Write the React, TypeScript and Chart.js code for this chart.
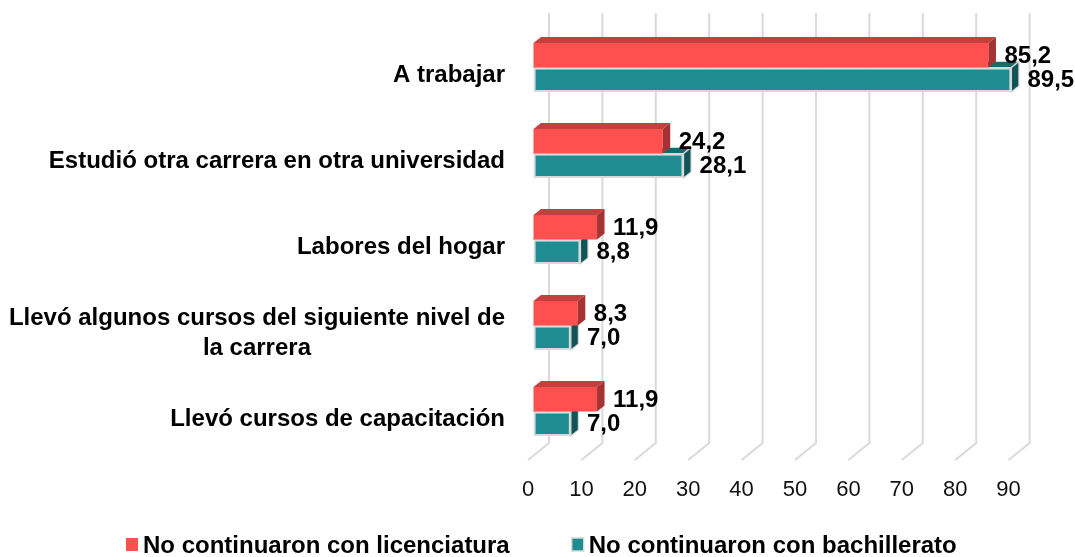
import React, { useEffect, useRef } from 'react';
import { Chart, registerables } from 'chart.js';

Chart.register(...registerables);

// ---- data ----
const categories: (string | string[])[] = [
  'A trabajar',
  'Estudió otra carrera en otra universidad',
  'Labores del hogar',
  ['Llevó algunos cursos del siguiente nivel de', 'la carrera'],
  'Llevó cursos de capacitación',
];
const seriesNames = ['No continuaron con licenciatura', 'No continuaron con bachillerato'];
const licenciatura = [85.2, 24.2, 11.9, 8.3, 11.9];
const bachillerato = [89.5, 28.1, 8.8, 7.0, 7.0];
const xTickValues = [0, 10, 20, 30, 40, 50, 60, 70, 80, 90];

// ---- styles ----
const FONT = '"Liberation Sans", Arial, sans-serif';
const FRONT = ['#FF5050', '#1E8C91'];
const TOPF = ['#C4403F', '#166A6E'];
const SIDE = ['#A63333', '#105458'];
const OUTLINE = [null, '#d9d9d9'];
const GRID = '#d9d9d9';
const DEPTH_X = 21;
const DEPTH_Y = 17;
const SHIFT_X = 5.5;
const SHIFT_Y = -5.5;
const FACE_X = 7.5;
const FACE_Y = -6;

const fmt = (v: number) => v.toFixed(1).replace('.', ',');

const threeD = {
  id: 'threeD',
  beforeDatasetsDraw(chart: any) {
    const { ctx, chartArea, scales } = chart;
    const x = scales.x;
    ctx.save();
    ctx.strokeStyle = GRID;
    ctx.lineWidth = 2;
    for (const v of xTickValues) {
      const fx = x.getPixelForValue(v);
      ctx.beginPath();
      ctx.moveTo(fx + DEPTH_X, chartArea.top - DEPTH_Y);
      ctx.lineTo(fx + DEPTH_X, chartArea.bottom - DEPTH_Y);
      ctx.lineTo(fx, chartArea.bottom);
      ctx.stroke();
    }
    ctx.restore();
  },
  beforeDatasetDraw(chart: any) {
    chart.ctx.save();
    chart.ctx.translate(SHIFT_X, SHIFT_Y);
  },
  afterDatasetDraw(chart: any, args: any) {
    const ctx = chart.ctx;
    const i = args.index;
    args.meta.data.forEach((bar: any) => {
      const p = bar.getProps(['x', 'y', 'base', 'height'], true);
      const l = Math.min(p.base, p.x);
      const r = Math.max(p.base, p.x);
      const t = p.y - p.height / 2;
      const b = p.y + p.height / 2;
      // top face
      ctx.beginPath();
      ctx.moveTo(l, t);
      ctx.lineTo(l + FACE_X, t + FACE_Y);
      ctx.lineTo(r + FACE_X, t + FACE_Y);
      ctx.lineTo(r, t);
      ctx.closePath();
      ctx.fillStyle = TOPF[i];
      ctx.fill();
      if (OUTLINE[i]) {
        ctx.strokeStyle = OUTLINE[i];
        ctx.lineWidth = 1.2;
        ctx.stroke();
      }
      // side face
      ctx.beginPath();
      ctx.moveTo(r, t);
      ctx.lineTo(r + FACE_X, t + FACE_Y);
      ctx.lineTo(r + FACE_X, b + FACE_Y);
      ctx.lineTo(r, b);
      ctx.closePath();
      ctx.fillStyle = SIDE[i];
      ctx.fill();
      if (OUTLINE[i]) {
        ctx.strokeStyle = OUTLINE[i];
        ctx.lineWidth = 1.2;
        ctx.stroke();
      }
    });
    ctx.restore();
  },
  afterDatasetsDraw(chart: any) {
    const ctx = chart.ctx;
    ctx.save();
    ctx.font = `bold 24px ${FONT}`;
    ctx.fillStyle = '#000';
    ctx.textAlign = 'left';
    ctx.textBaseline = 'middle';
    chart.data.datasets.forEach((ds: any, di: number) => {
      const meta = chart.getDatasetMeta(di);
      meta.data.forEach((bar: any, k: number) => {
        const p = bar.getProps(['x', 'y'], true);
        ctx.fillText(fmt(ds.data[k]), p.x + SHIFT_X + 16, p.y + SHIFT_Y + 1);
      });
    });
    ctx.restore();
  },
  afterDraw(chart: any) {
    const { ctx, chartArea, scales } = chart;
    const y = scales.y;
    ctx.save();
    // category labels
    ctx.font = `bold 24px ${FONT}`;
    ctx.fillStyle = '#000';
    ctx.textBaseline = 'middle';
    const right = chartArea.left - 23;
    categories.forEach((c, i) => {
      const lines = Array.isArray(c) ? c : [c];
      const cy = y.getPixelForTick(i) + 2;
      const maxW = Math.max(...lines.map((s) => ctx.measureText(s).width));
      const cx = right - maxW / 2;
      ctx.textAlign = 'center';
      lines.forEach((s, j) => {
        ctx.fillText(s, cx, cy + (j - (lines.length - 1) / 2) * 30);
      });
    });
    // legend
    const ly = 545;
    let lx = 126;
    chart.data.datasets.forEach((ds: any, di: number) => {
      ctx.fillStyle = FRONT[di];
      ctx.fillRect(lx, ly - 7, 12, 13);
      if (OUTLINE[di]) {
        ctx.strokeStyle = OUTLINE[di];
        ctx.lineWidth = 1.5;
        ctx.strokeRect(lx, ly - 7, 12, 13);
      }
      ctx.fillStyle = '#000';
      ctx.textAlign = 'left';
      ctx.fillText(ds.label, lx + 17, ly + 1);
      lx = lx + 17 + ctx.measureText(ds.label).width + 62;
    });
    ctx.restore();
  },
};

export default function App() {
  const ref = useRef<HTMLCanvasElement | null>(null);
  useEffect(() => {
    document.body.style.margin = '0';
    const canvas = ref.current;
    if (!canvas) return;
    const chart = new Chart(canvas, {
      type: 'bar',
      data: {
        labels: categories as any,
        datasets: [
          {
            label: seriesNames[0],
            data: licenciatura,
            backgroundColor: FRONT[0],
            borderWidth: 0,
            clip: false as any,
          },
          {
            label: seriesNames[1],
            data: bachillerato,
            backgroundColor: FRONT[1],
            borderColor: OUTLINE[1] as string,
            borderWidth: 2,
            borderSkipped: false,
            clip: false as any,
          },
        ],
      },
      options: {
        indexAxis: 'y',
        responsive: false,
        animation: false,
        devicePixelRatio: 1,
        categoryPercentage: 0.57,
        barPercentage: 1.0,
        layout: { padding: { left: 528, right: 66.4, top: 30, bottom: 36.6 } },
        plugins: {
          legend: { display: false },
          tooltip: { enabled: false },
        },
        scales: {
          x: {
            min: 0,
            max: 90,
            grid: { display: false, drawTicks: false },
            border: { display: false },
            afterBuildTicks: (s: any) => {
              s.ticks = xTickValues.map((v) => ({ value: v }));
            },
            ticks: {
              padding: 17,
              color: '#111',
              font: { family: FONT, size: 22 },
            },
          },
          y: {
            display: false,
          },
        },
      } as any,
      plugins: [threeD],
    });
    return () => chart.destroy();
  }, []);
  return (
    <div style={{ width: 1075, height: 557 }}>
      <canvas ref={ref} width={1075} height={557} style={{ display: 'block' }} />
    </div>
  );
}
